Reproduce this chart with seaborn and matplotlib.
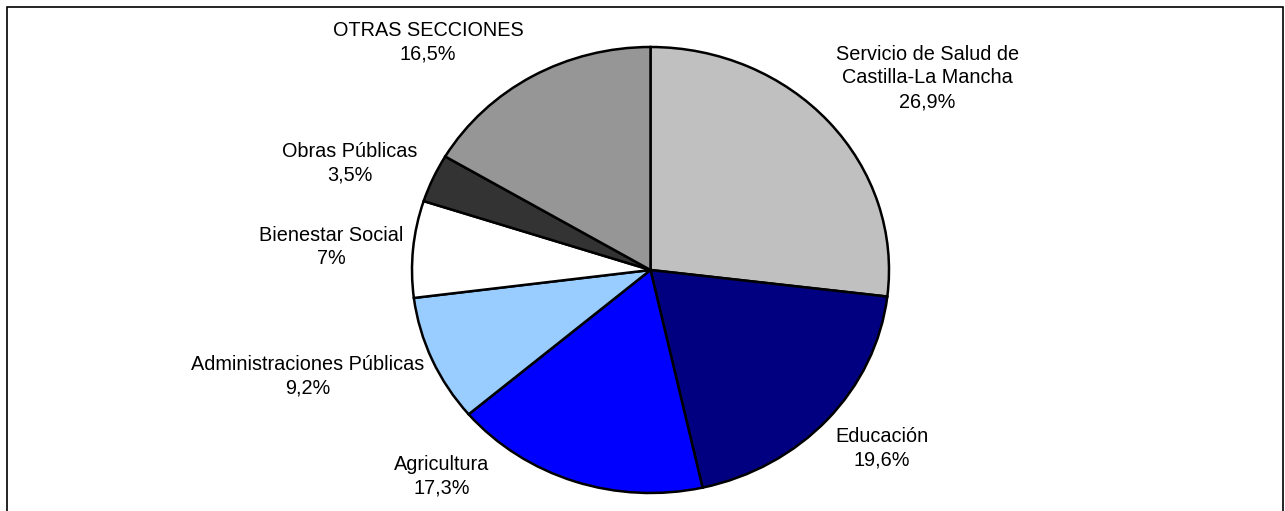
import matplotlib
matplotlib.use("Agg")
import matplotlib.pyplot as plt
import seaborn as sns
from matplotlib.patches import Rectangle

sections = ["Servicio de Salud de\nCastilla-La Mancha", "Educación", "Agricultura",
            "Administraciones Públicas", "Bienestar Social", "Obras Públicas",
            "OTRAS SECCIONES"]
shares = [26.9, 19.6, 17.3, 9.2, 7.0, 3.5, 16.5]
colors = ["#C0C0C0", "#000080", "#0000FF", "#99CCFF", "#FFFFFF", "#333333", "#969696"]

# label anchor positions (data coords of the pie, radius 1)
label_xy = [(1.160, 0.861), (0.970, -0.798), (-0.874, -0.924), (-1.436, -0.475),
            (-1.340, 0.103), (-1.260, 0.480), (-0.933, 1.022)]

sns.set_theme(style="white")
plt.rcParams["font.family"] = ["Liberation Sans", "DejaVu Sans"]

def fmt(v):
    if abs(v - round(v)) < 1e-9:
        return f"{int(round(v))}%"
    return f"{v:.1f}".replace(".", ",") + "%"

fig = plt.figure(figsize=(12.85, 5.11), dpi=100)
fig.patch.set_facecolor("white")
ax = fig.add_axes([412 / 1285, 18 / 511, 477 / 1285, 446 / 511])
wedges, _ = ax.pie(shares, colors=colors, startangle=90, counterclock=False,
                   wedgeprops=dict(edgecolor="black", linewidth=1.8))
ax.set_aspect("auto")
ax.set_xlim(-1, 1)
ax.set_ylim(-1, 1)
ax.axis("off")

for name, v, (x, y) in zip(sections, shares, label_xy):
    ax.text(x, y, f"{name}\n{fmt(v)}", ha="center", va="center", fontsize=14.3,
            color="black", linespacing=1.32, clip_on=False)

# outer frame (bottom edge cut off)
fig.patches.append(Rectangle((7 / 1285, -0.05), (1283 - 7) / 1285, (511 - 7) / 511 + 0.05,
                             transform=fig.transFigure, fill=False,
                             edgecolor="black", linewidth=1.2, zorder=10))

fig.savefig("out.png", dpi=100, facecolor="white")
